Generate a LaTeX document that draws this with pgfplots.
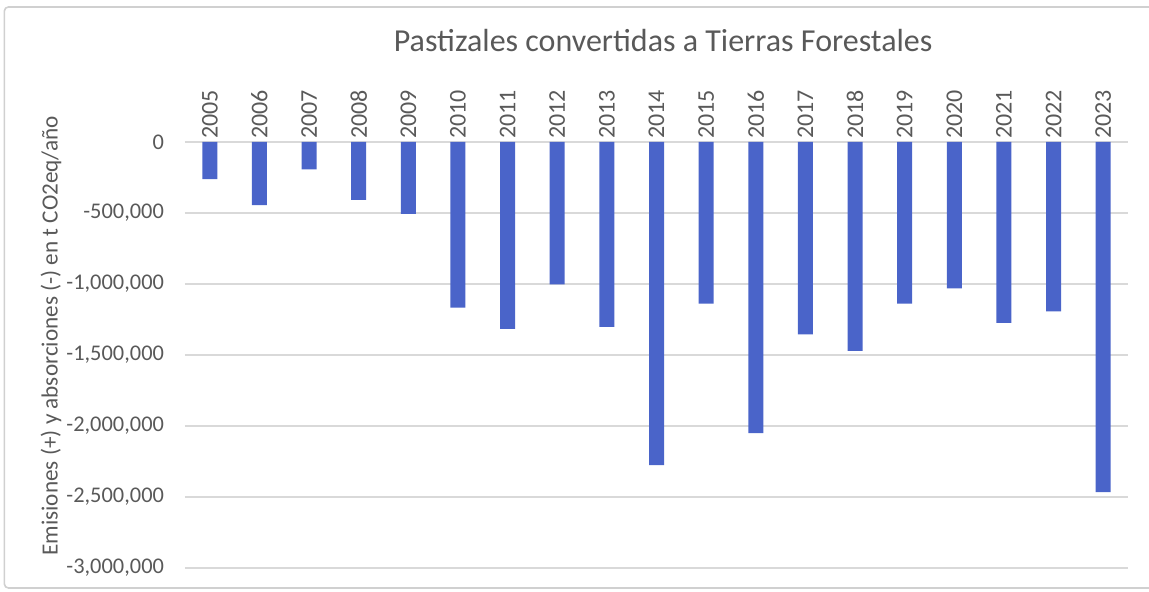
\documentclass[border=0pt]{standalone}
\usepackage{fontspec}
\setmainfont{Carlito}
\usepackage{pgfplots}
\pgfplotsset{compat=1.18}
\definecolor{barblue}{HTML}{4A64C9}
\definecolor{gridgray}{HTML}{D9D9D9}
\definecolor{txtgray}{HTML}{595959}
\definecolor{framegray}{HTML}{D0D0D0}

\begin{document}
\begin{tikzpicture}
\useasboundingbox (-92.5pt,-12pt) rectangle (482pt,284pt);
\draw[framegray, line width=0.8pt, rounded corners=2pt] (-90.3pt,-10pt) rectangle (490pt,280.5pt);
\begin{axis}[
  at={(0,0)}, anchor=south west,
  scale only axis,
  width=471.5pt, height=213pt,
  ybar, bar width=7.5pt,
  xmin=-0.5, xmax=18.5,
  ymin=-3000000, ymax=0,
  ytick distance=500000,
  scaled y ticks=false,
  xtick=data,
  xticklabels={2005,2006,2007,2008,2009,2010,2011,2012,2013,2014,2015,2016,2017,2018,2019,2020,2021,2022,2023},
  xticklabel pos=upper,
  xticklabel shift=-2pt,
  xticklabel style={rotate=90, anchor=west, font=\fontsize{12}{14}\selectfont, text=txtgray},
  yticklabel style={font=\fontsize{11.2}{13}\selectfont, text=txtgray, /pgf/number format/assume math mode=true, xshift=-7pt},
  y tick label style={/pgf/number format/.cd, 1000 sep={,}, fixed},
  major tick length=0pt,
  axis line style={draw=none},
  ymajorgrids, grid style={gridgray, line width=0.9pt},
  title={Pastizales convertidas a Tierras Forestales},
  title style={at={(axis description cs:0.507,1.21)}, anchor=center, font=\fontsize{16}{19}\selectfont, text=txtgray},
  ylabel={Emisiones (+) y absorciones (-) en t CO2eq/año},
  ylabel style={at={(axis description cs:-0.142,0.545)}, anchor=center, rotate=0, font=\fontsize{11.6}{13}\selectfont, text=txtgray},
]
\addplot[fill=barblue, draw=none] coordinates {
  (0,-262000) (1,-445000) (2,-192000) (3,-408000) (4,-506000)
  (5,-1167000) (6,-1316000) (7,-1003000) (8,-1302000) (9,-2275000)
  (10,-1138000) (11,-2050000) (12,-1354000) (13,-1471000) (14,-1138000)
  (15,-1031000) (16,-1274000) (17,-1193000) (18,-2465000)
};
\end{axis}
\end{tikzpicture}
\end{document}
